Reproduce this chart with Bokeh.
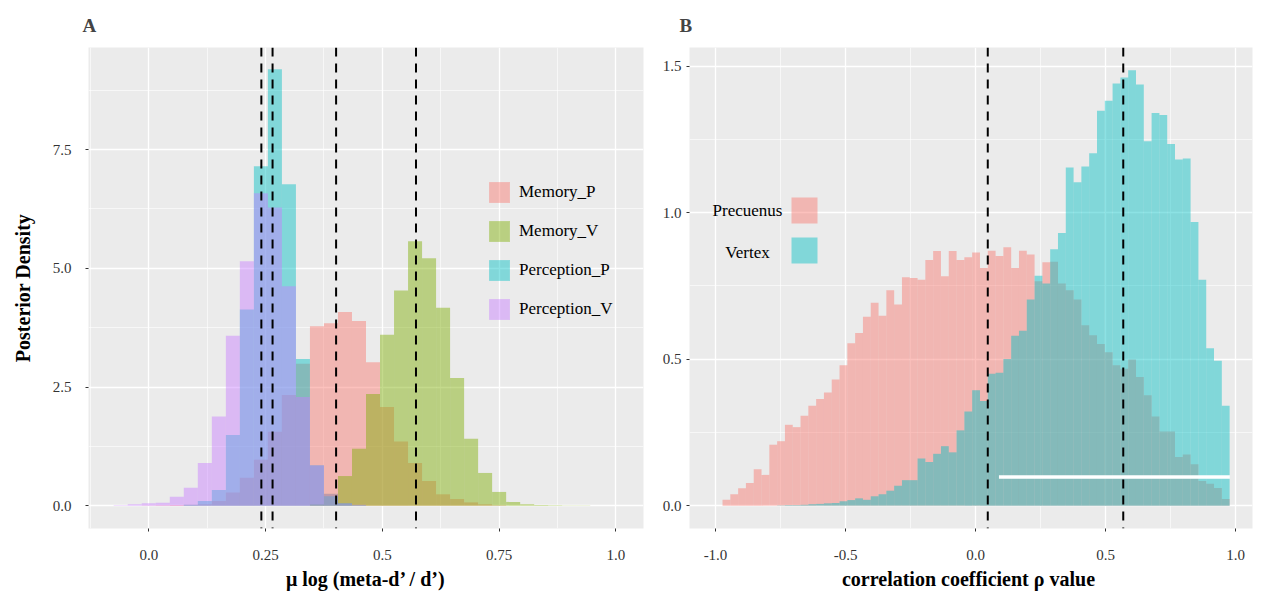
from bokeh.plotting import figure
from bokeh.layouts import row
from bokeh.models import Range1d, FixedTicker, Span, Legend, LegendItem, Label, BoxAnnotation
from bokeh.embed import file_html
from bokeh.resources import INLINE

SERIF = "Liberation Serif"
BG = "#EBEBEB"
ALPHA = 0.45

# ---------------- Panel A data ----------------
a_edges = [-0.075, -0.045, -0.015, 0.015, 0.045, 0.075, 0.105, 0.135, 0.165, 0.195,
           0.225, 0.255, 0.285, 0.315, 0.345, 0.375, 0.405, 0.435, 0.465, 0.495,
           0.525, 0.555, 0.585, 0.615, 0.645, 0.675, 0.705, 0.735, 0.765, 0.795,
           0.825, 0.855, 0.885, 0.915, 0.945, 0.975, 1.005]
memory_p = [0, 0, 0.005, 0.01, 0.015, 0.02, 0.03, 0.10, 0.28, 0.59,
            0.97, 1.56, 2.33, 2.99, 3.78, 3.84, 4.08, 3.89, 3.02, 2.08,
            1.35, 0.90, 0.52, 0.24, 0.14, 0.07, 0.03, 0.01, 0, 0,
            0, 0, 0, 0, 0, 0]
memory_v = [0, 0, 0, 0, 0, 0, 0, 0, 0, 0,
            0, 0, 0, 0, 0.03, 0.25, 0.625, 1.20, 2.35, 3.60,
            4.53, 5.57, 5.21, 4.17, 2.69, 1.41, 0.69, 0.29, 0.08, 0.03,
            0.015, 0.01, 0.005, 0.003, 0, 0]
perception_p = [0, 0, 0, 0, 0, 0.02, 0.10, 0.33, 1.49, 4.13,
                7.15, 9.19, 6.77, 3.09, 0.85, 0.20, 0.05, 0.01, 0, 0,
                0, 0, 0, 0, 0, 0, 0, 0, 0, 0,
                0, 0, 0, 0, 0, 0]
perception_v = [0.01, 0.03, 0.05, 0.06, 0.19, 0.38, 0.90, 1.88, 3.58, 5.15,
                6.58, 6.28, 4.62, 2.29, 0.85, 0.25, 0.05, 0.02, 0, 0,
                0, 0, 0, 0, 0, 0, 0, 0, 0, 0,
                0, 0, 0, 0, 0, 0]
a_series = ["Memory_P", "Memory_V", "Perception_P", "Perception_V"]
a_colors = ["#F8766D", "#7CAE00", "#00BFC4", "#C77CFF"]
a_means = [0.241, 0.265, 0.401, 0.572]
a_xticks = [0.0, 0.25, 0.5, 0.75, 1.0]
a_xlabels = ["0.0", "0.25", "0.5", "0.75", "1.0"]
a_yticks = [0.0, 2.5, 5.0, 7.5]
a_ylabels = ["0.0", "2.5", "5.0", "7.5"]

# ---------------- Panel B data ----------------
b_edges = [-0.973, -0.943, -0.913, -0.883, -0.853, -0.823, -0.793, -0.763, -0.733, -0.703,
           -0.673, -0.643, -0.613, -0.583, -0.553, -0.523, -0.493, -0.463, -0.433, -0.403,
           -0.373, -0.343, -0.313, -0.283, -0.253, -0.223, -0.193, -0.163, -0.133, -0.103,
           -0.073, -0.043, -0.013, 0.017, 0.047, 0.077, 0.107, 0.137, 0.167, 0.197,
           0.227, 0.257, 0.287, 0.317, 0.347, 0.377, 0.407, 0.437, 0.467, 0.497,
           0.527, 0.557, 0.587, 0.617, 0.647, 0.677, 0.707, 0.737, 0.767, 0.797,
           0.827, 0.857, 0.887, 0.917, 0.947, 0.977]
precuenus = [0.020, 0.039, 0.059, 0.077, 0.124, 0.105, 0.208, 0.220, 0.276, 0.268,
             0.307, 0.341, 0.364, 0.386, 0.431, 0.479, 0.554, 0.589, 0.645, 0.693,
             0.648, 0.735, 0.687, 0.780, 0.777, 0.771, 0.839, 0.869, 0.783, 0.869,
             0.839, 0.848, 0.864, 0.811, 0.870, 0.852, 0.882, 0.811, 0.870, 0.857,
             0.766, 0.831, 0.833, 0.758, 0.735, 0.704, 0.616, 0.582, 0.552, 0.524,
             0.479, 0.467, 0.499, 0.439, 0.377, 0.304, 0.253, 0.253, 0.166, 0.175,
             0.141, 0.084, 0.075, 0.060, 0.023]
vertex = [0, 0, 0, 0, 0, 0, 0, 0.001, 0.002, 0.002,
          0.003, 0.005, 0.006, 0.008, 0.009, 0.015, 0.019, 0.025, 0.020, 0.032,
          0.039, 0.051, 0.068, 0.087, 0.087, 0.161, 0.149, 0.177, 0.203, 0.182,
          0.257, 0.321, 0.394, 0.357, 0.450, 0.454, 0.501, 0.580, 0.597, 0.704,
          0.785, 0.758, 0.875, 0.931, 1.154, 1.104, 1.158, 1.203, 1.348, 1.382,
          1.441, 1.462, 1.486, 1.438, 1.244, 1.340, 1.334, 1.235, 1.182, 1.185,
          0.968, 0.771, 0.537, 0.495, 0.341]
b_series = ["Precuenus", "Vertex"]
b_colors = ["#F8766D", "#00BFC4"]
b_means = [0.047, 0.568]
b_interval = [0.090, 0.978]
b_interval_y = 0.098
b_xticks = [-1.0, -0.5, 0.0, 0.5, 1.0]
b_xlabels = ["-1.0", "-0.5", "0.0", "0.5", "1.0"]
b_yticks = [0.0, 0.5, 1.0, 1.5]
b_ylabels = ["0.0", "0.5", "1.0", "1.5"]

H = 595


def style(p, xt, xl, xminor, yt, yl, yminor, ystandoff):
    p.background_fill_color = BG
    p.border_fill_color = "white"
    p.outline_line_color = None
    p.xaxis.ticker = FixedTicker(ticks=xt, minor_ticks=xminor)
    p.yaxis.ticker = FixedTicker(ticks=yt, minor_ticks=yminor)
    p.xaxis.major_label_overrides = {t: l for t, l in zip(xt, xl)}
    p.yaxis.major_label_overrides = {t: l for t, l in zip(yt, yl)}
    for ax in (p.xaxis, p.yaxis):
        ax.axis_line_color = None
        ax.major_tick_line_color = "#333333"
        ax.major_tick_in = 0
        ax.major_tick_out = 3
        ax.minor_tick_line_color = None
        ax.major_label_text_font = SERIF
        ax.major_label_text_font_size = "15px"
        ax.major_label_text_color = "#333333"
        ax.axis_label_text_font = SERIF
        ax.axis_label_text_font_style = "bold"
        ax.axis_label_text_font_size = "20px"
        ax.axis_label_text_color = "black"
    p.xaxis.major_label_standoff = 17
    p.xaxis.axis_label_standoff = 5
    p.yaxis.major_label_standoff = ystandoff
    p.yaxis.axis_label_standoff = 16
    for g in (p.xgrid, p.ygrid):
        g.grid_line_color = "white"
        g.grid_line_width = 1.3
        g.minor_grid_line_color = "white"
        g.minor_grid_line_width = 0.6
    p.title.text_font = SERIF
    p.title.text_font_style = "bold"
    p.title.text_font_size = "19px"
    p.title.align = "left"
    p.title.standoff = 24


# ---------------- Figure A ----------------
pa = figure(width=658, height=H, output_backend="svg", toolbar_location=None,
            x_range=Range1d(-0.129, 1.059), y_range=Range1d(-0.48, 9.65),
            min_border_left=88, min_border_right=15, min_border_top=42, min_border_bottom=67,
            title="A")
style(pa, a_xticks, a_xlabels, [-0.125, 0.125, 0.375, 0.625, 0.875],
      a_yticks, a_ylabels, [1.25, 3.75, 6.25, 8.75], 13)
pa.title.offset = -6
pa.xaxis.axis_label = "\u03bc log (meta-d\u2019 / d\u2019)"
pa.yaxis.axis_label = "Posterior Density"

items = []
for name, vals, col in zip(a_series, [memory_p, memory_v, perception_p, perception_v], a_colors):
    r = pa.quad(left=a_edges[:-1], right=a_edges[1:], bottom=0, top=vals,
                fill_color=col, fill_alpha=ALPHA, line_color=None)
    items.append(LegendItem(label=name, renderers=[r]))
for m in a_means:
    pa.add_layout(Span(location=m, dimension="height", line_color="black",
                       line_width=2, line_dash="9 7"))
leg = Legend(items=items, location=(398, 206), padding=0, margin=0, spacing=13,
             glyph_width=26, glyph_height=26, label_height=26, label_standoff=7,
             label_text_font=SERIF, label_text_font_size="17px", label_text_color="black",
             background_fill_alpha=0, border_line_alpha=0)
pa.add_layout(leg, "center")

# ---------------- Figure B ----------------
pb = figure(width=600, height=H, output_backend="svg", toolbar_location=None,
            x_range=Range1d(-1.1, 1.065), y_range=Range1d(-0.078, 1.564),
            min_border_left=31, min_border_right=6, min_border_top=42, min_border_bottom=67,
            title="B")
style(pb, b_xticks, b_xlabels, [-0.75, -0.25, 0.25, 0.75],
      b_yticks, b_ylabels, [0.25, 0.75, 1.25], 4)
pb.title.offset = -10
pb.xaxis.axis_label = "correlation  coefficient \u03c1 value"

for name, vals, col in zip(b_series, [precuenus, vertex], b_colors):
    pb.quad(left=b_edges[:-1], right=b_edges[1:], bottom=0, top=vals,
            fill_color=col, fill_alpha=ALPHA, line_color=None)
pb.line(x=b_interval, y=[b_interval_y, b_interval_y], line_color="white", line_width=3.5)
for m in b_means:
    pb.add_layout(Span(location=m, dimension="height", line_color="black",
                       line_width=2, line_dash="9 7"))

# legend B: label on the left, key on the right (screen units, relative to frame)
key_tops = [331, 291]
label_ys = [318, 276]
for name, col, kt, ly in zip(b_series, b_colors, key_tops, label_ys):
    pb.add_layout(BoxAnnotation(left=102, right=128, top=kt, bottom=kt - 26,
                                left_units="screen", right_units="screen",
                                top_units="screen", bottom_units="screen",
                                fill_color=col, fill_alpha=ALPHA, line_color=None))
    pb.add_layout(Label(x=58, y=ly, x_units="screen", y_units="screen", text=name,
                        text_align="center", text_baseline="middle",
                        text_font=SERIF, text_font_size="17px", text_color="black"))

layout = row(pa, pb)
open("out.html", "w").write(file_html(layout, INLINE))
